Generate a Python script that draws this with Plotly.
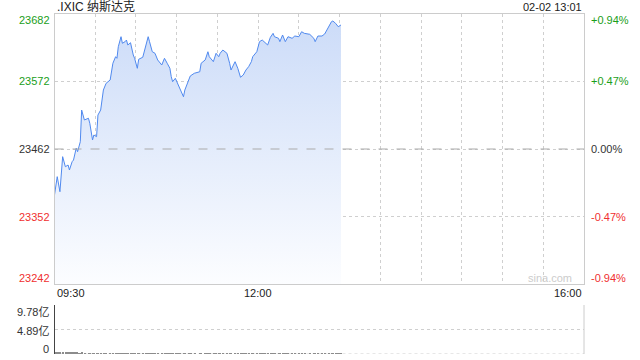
import plotly.graph_objects as go

# ---------------- data ----------------
title_text = ".IXIC 纳斯达克"
stamp_text = "02-02 13:01"
watermark = "sina.com"
prev_close = 23462

# minutes after 09:30
minutes = [0, 2, 4, 6, 8, 10, 11, 13, 14, 16,
           17, 19, 20, 22, 25, 26, 28, 29, 31, 32,
           34, 36, 38, 41, 43, 45, 46, 47, 49, 50,
           52, 53, 54, 56, 58, 59, 61, 62, 65, 67,
           69, 70, 72, 74, 76, 79, 81, 83, 85, 86,
           87, 89, 91, 92, 95, 96, 99, 100, 103, 107,
           108, 111, 113, 114, 117, 119, 121, 122, 124, 127,
           129, 130, 133, 135, 137, 139, 141, 143, 145, 146,
           149, 151, 153, 155, 157, 159, 161, 162, 165, 166,
           168, 170, 172, 175, 177, 180, 182, 184, 188, 191,
           192, 194, 197, 199, 202, 204, 205, 207, 209, 211]

prices = [23387.1, 23416.9, 23392.4, 23449.5, 23433.1, 23435.9, 23427.8, 23441.3, 23444.0, 23463.6,
          23457.6, 23473.9, 23525.5, 23509.3, 23512.1, 23503.9, 23476.7, 23484.8, 23482.1, 23517.4,
          23525.5, 23558.1, 23569.0, 23574.5, 23601.7, 23612.4, 23609.8, 23628.7, 23645.0, 23634.3,
          23636.9, 23639.6, 23631.5, 23635.2, 23615.2, 23609.8, 23593.5, 23608.2, 23611.5, 23628.7,
          23645.0, 23636.9, 23620.6, 23618.0, 23607.1, 23598.9, 23609.8, 23601.7, 23593.5, 23579.8,
          23571.7, 23577.2, 23566.3, 23562.5, 23547.2, 23558.1, 23574.5, 23581.0, 23585.4, 23587.9,
          23601.7, 23607.1, 23620.5, 23612.4, 23604.3, 23618.0, 23612.4, 23618.0, 23623.3, 23618.0,
          23601.7, 23590.7, 23604.3, 23593.5, 23578.9, 23582.6, 23590.7, 23596.2, 23604.3, 23612.4,
          23620.5, 23636.9, 23639.6, 23635.2, 23631.5, 23644.0, 23650.5, 23645.0, 23642.4, 23636.9,
          23647.8, 23636.9, 23645.0, 23642.4, 23646.1, 23645.0, 23653.1, 23650.5, 23648.9, 23642.4,
          23636.9, 23646.1, 23646.1, 23649.4, 23661.3, 23669.5, 23670.6, 23666.9, 23661.3, 23664.1]

# volume, in 亿
volumes = [0.42, 0.36, 0.30, 0.33, 0.27, 0.25, 0.22, 0.26, 0.21, 0.23,
           0.20, 0.19, 0.22, 0.20, 0.18, 0.16, 0.17, 0.15, 0.16, 0.18,
           0.17, 0.15, 0.14, 0.16, 0.15, 0.14, 0.13, 0.15, 0.14, 0.13,
           0.14, 0.13, 0.12, 0.14, 0.13, 0.12, 0.14, 0.13, 0.12, 0.13,
           0.14, 0.12, 0.13, 0.12, 0.11, 0.13, 0.12, 0.12, 0.13, 0.12,
           0.12, 0.11, 0.12, 0.13, 0.12, 0.11, 0.12, 0.12, 0.11, 0.12,
           0.12, 0.11, 0.12, 0.11, 0.12, 0.11, 0.12, 0.11, 0.11, 0.12,
           0.12, 0.11, 0.12, 0.11, 0.12, 0.11, 0.12, 0.12, 0.11, 0.12,
           0.12, 0.13, 0.12, 0.11, 0.12, 0.12, 0.11, 0.12, 0.11, 0.12,
           0.12, 0.11, 0.12, 0.12, 0.11, 0.12, 0.13, 0.12, 0.12, 0.13,
           0.12, 0.13, 0.12, 0.13, 0.14, 0.15, 0.14, 0.15, 0.16, 0.17]

price_ticks = [23242, 23352, 23462, 23572, 23682]
price_labels = ["23242", "23352", "23462", "23572", "23682"]
pct_labels = ["-0.94%", "-0.47%", "0.00%", "+0.47%", "+0.94%"]
time_tick_vals = [0, 150, 390]
time_tick_labels = ["09:30", "12:00", "16:00"]
vol_ticks = [0, 4.89, 9.78]
vol_labels = ["0", "4.89亿", "9.78亿"]

# ---------------- styling ----------------
GREEN = "#1a9e1a"
RED = "#f03030"
DARK = "#333333"
GRID = "#cfcfcf"
BORDER = "#cccccc"
LINE = "#5089ee"
FONT = "Arial, 'Liberation Sans', 'Noto Sans CJK SC', sans-serif"


def tick_color(v):
    if v > prev_close:
        return GREEN
    if v < prev_close:
        return RED
    return DARK


y_lo, y_hi = price_ticks[0], price_ticks[-1]

fig = go.Figure()

fig.add_trace(go.Scatter(
    x=minutes, y=prices, mode="lines",
    line=dict(color=LINE, width=1),
    fill="tozeroy",
    fillgradient=dict(type="vertical", start=y_lo, stop=y_hi,
                      colorscale=[[0, "rgba(252,253,255,1)"], [1, "rgba(203,219,248,1)"]]),
    xaxis="x", yaxis="y", hoverinfo="skip", showlegend=False,
))
fig.add_trace(go.Bar(
    x=minutes, y=volumes, marker=dict(color="#8c8c8c", line=dict(width=0)),
    width=1.2, xaxis="x2", yaxis="y2", hoverinfo="skip", showlegend=False,
))

x_dom = [54.5 / 640, 584 / 640]
main_dom = [1 - 284 / 360, 1 - 14 / 360]
vol_dom = [1 - 354 / 360, 1 - 305 / 360]

fig.update_layout(
    width=640, height=360,
    margin=dict(l=0, r=0, t=0, b=0),
    paper_bgcolor="white", plot_bgcolor="white",
    font=dict(family=FONT, size=11, color=DARK),
    bargap=0,
    xaxis=dict(domain=x_dom, range=[0, 390], anchor="y", tick0=0, dtick=30,
               showgrid=True, gridcolor=GRID, griddash="dot", gridwidth=1,
               showticklabels=False, ticks="", zeroline=False,
               showline=True, linecolor=BORDER, linewidth=1, mirror=True),
    yaxis=dict(domain=main_dom, range=[y_lo, y_hi], anchor="x",
               tickvals=price_ticks, showticklabels=False, ticks="",
               showgrid=True, gridcolor=GRID, griddash="dot", gridwidth=1,
               zeroline=False, showline=True, linecolor=BORDER, linewidth=1, mirror=True),
    xaxis2=dict(domain=x_dom, range=[0, 390], anchor="y2",
                showgrid=False, showticklabels=False, ticks="", zeroline=False,
                showline=False),
    yaxis2=dict(domain=vol_dom, range=[0, 9.78], anchor="x2",
                tickvals=vol_ticks, showticklabels=False, ticks="",
                showgrid=True, gridcolor=GRID, griddash="dot", gridwidth=1,
                zeroline=False, showline=True, linecolor="#444444", linewidth=1),
)

# previous close dashed line
fig.add_shape(type="line", xref="x domain", yref="y", x0=0, x1=1,
              y0=prev_close, y1=prev_close,
              line=dict(color="#aaaaaa", width=1, dash="dash"), layer="above")
# right border of volume panel
fig.add_shape(type="line", xref="x2 domain", yref="y2 domain", x0=1, x1=1, y0=0, y1=1,
              line=dict(color=BORDER, width=1))
fig.add_shape(type="line", xref="x2 domain", yref="y2", x0=0, x1=1, y0=0, y1=0,
              line=dict(color=GRID, width=1, dash="dot"), layer="below")

# price / percent labels (edge labels pulled inside the frame)
n = len(price_ticks)
for i, (v, lab, pct) in enumerate(zip(price_ticks, price_labels, pct_labels)):
    shift = 6 if i == 0 else (-6 if i == n - 1 else 0)
    col = tick_color(v)
    fig.add_annotation(text=lab, xref="paper", yref="y", x=52 / 640, y=v, yshift=shift,
                       xanchor="right", yanchor="middle", showarrow=False,
                       font=dict(size=11, color=col))
    fig.add_annotation(text=pct, xref="paper", yref="y", x=589 / 640, y=v, yshift=shift,
                       xanchor="left", yanchor="middle", showarrow=False,
                       font=dict(size=11, color=col))

# volume labels
vol_shift = [5, -1.5, -6.5]
for v, lab, s in zip(vol_ticks, vol_labels, vol_shift):
    fig.add_annotation(text=lab, xref="paper", yref="y2", x=51 / 640, y=v, yshift=s,
                       xanchor="right", yanchor="middle", showarrow=False,
                       font=dict(size=11, color=DARK))

# title and timestamp
fig.add_annotation(text=title_text, xref="paper", yref="paper", x=55 / 640, y=1 - 7 / 360,
                   xanchor="left", yanchor="middle", showarrow=False,
                   font=dict(size=12, color="#222222"))
fig.add_annotation(text=stamp_text, xref="paper", yref="paper", x=584 / 640, y=1 - 7 / 360,
                   xanchor="right", yanchor="middle", showarrow=False,
                   font=dict(size=11, color="#222222"))
fig.add_annotation(text=watermark, xref="paper", yref="paper", x=574 / 640, y=1 - 278 / 360,
                   xanchor="right", yanchor="middle", showarrow=False,
                   font=dict(size=11, color="#cccccc"))

# time labels
anchors = ["left", "center", "right"]
for v, t, a in zip(time_tick_vals, time_tick_labels, anchors):
    fig.add_annotation(text=t, xref="x", yref="paper", x=v, y=1 - 293 / 360,
                       xanchor=a, yanchor="middle", showarrow=False,
                       font=dict(size=11, color="#222222"))

fig.write_html("out.html")
